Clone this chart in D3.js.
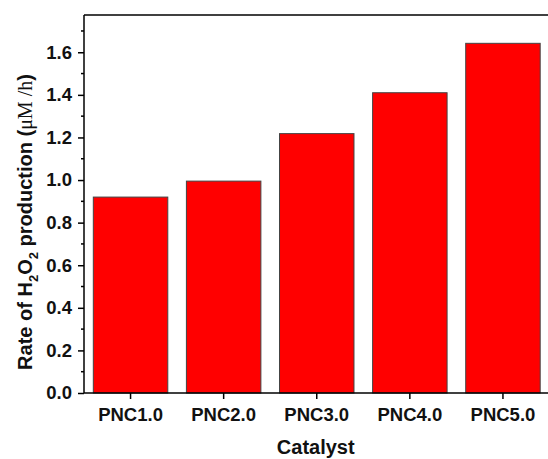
<!DOCTYPE html>
<meta charset="utf-8">
<style>
body{margin:0;background:#fff;}
text{font-family:Arial,"Liberation Sans",sans-serif;font-weight:bold;fill:#111;}
.tick text{font-size:18.5px;}
.axis path,.axis line{stroke:#000;stroke-width:1.5px;}
</style>
<body>
<script src="https://d3js.org/d3.v7.min.js"></script>
<script>
var catalysts = ["PNC1.0","PNC2.0","PNC3.0","PNC4.0","PNC5.0"];
var rates = [0.92, 0.995, 1.218, 1.41, 1.642];
var yTicks = [0,0.2,0.4,0.6,0.8,1.0,1.2,1.4,1.6];
var yMinor = [0.1,0.3,0.5,0.7,0.9,1.1,1.3,1.5,1.7];

var W = 548, H = 459;
var plotLeft = 84, plotRight = 549.5, plotTop = 15, plotBottom = 393;

var svg = d3.select("body").append("svg").attr("width", W).attr("height", H);

var x = d3.scaleBand().domain(catalysts).range([plotLeft, plotRight]).paddingInner(0.2).paddingOuter(0.1);
var y = d3.scaleLinear().domain([0, 1.775]).range([plotBottom, plotTop]);

// bars
svg.selectAll(".bar").data(rates).enter().append("rect")
  .attr("class","bar")
  .attr("x",(d,i)=>x(catalysts[i]))
  .attr("width",x.bandwidth())
  .attr("y",d=>y(d))
  .attr("height",d=>plotBottom-y(d))
  .attr("fill","#ff0000")
  .attr("stroke","#444")
  .attr("stroke-width",1);

// frame top
svg.append("line").attr("x1",plotLeft).attr("x2",plotRight).attr("y1",plotTop).attr("y2",plotTop)
  .attr("stroke","#000").attr("stroke-width",1.5);

// y axis
var ya = svg.append("g").attr("class","axis").attr("transform","translate("+plotLeft+",0)")
  .call(d3.axisLeft(y).tickValues(yTicks).tickFormat(d3.format(".1f")).tickSize(6).tickPadding(6).tickSizeOuter(0));
ya.select(".domain").attr("d","M0,"+plotTop+"V"+plotBottom);
ya.selectAll(".minor").data(yMinor).enter().append("line").attr("class","minor")
  .attr("x1",-3).attr("x2",0).attr("y1",d=>y(d)).attr("y2",d=>y(d));

// x axis
var xa = svg.append("g").attr("class","axis").attr("transform","translate(0,"+plotBottom+")")
  .call(d3.axisBottom(x).tickSize(6).tickPadding(9).tickSizeOuter(0));
xa.select(".domain").attr("d","M"+plotLeft+",0H"+plotRight);

// titles
svg.append("text").attr("x",(plotLeft+plotRight)/2 - 1).attr("y",454).attr("text-anchor","middle")
  .style("font-size","20px").text("Catalyst");

var yl = svg.append("text").attr("transform","translate(32,222) rotate(-90)")
  .attr("text-anchor","middle").style("font-size","20px");
yl.append("tspan").text("Rate of H");
yl.append("tspan").attr("dy",6).style("font-size","13px").text("2");
yl.append("tspan").attr("dy",-6).text("O");
yl.append("tspan").attr("dy",6).style("font-size","13px").text("2");
yl.append("tspan").attr("dy",-6).text(" production (");
yl.append("tspan").style("font-family","'Liberation Serif','Times New Roman',serif").style("font-weight","normal").text("\u03bcM /h");
yl.append("tspan").text(")");
</script>
</body>
